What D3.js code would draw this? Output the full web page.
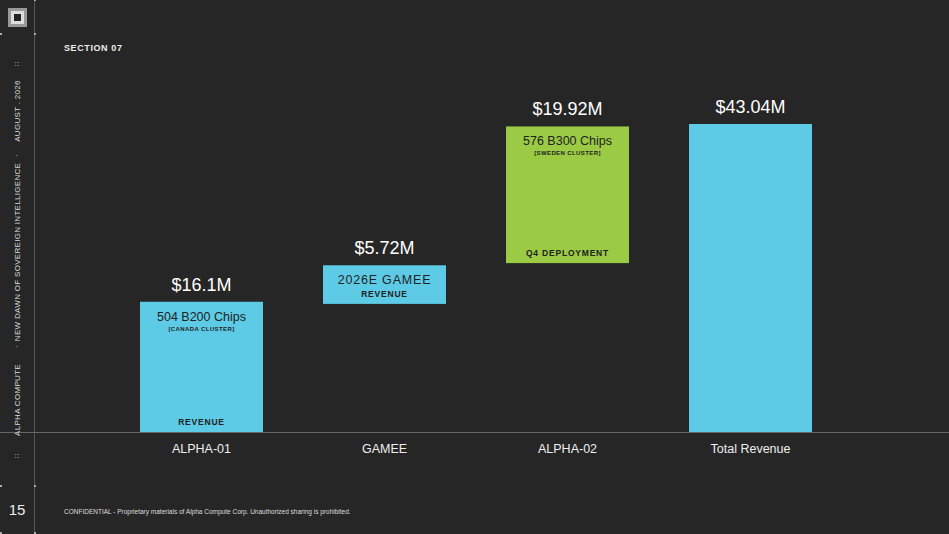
<!DOCTYPE html>
<html>
<head>
<meta charset="utf-8">
<script src="https://cdnjs.cloudflare.com/ajax/libs/d3/7.8.5/d3.min.js"></script>
<style>
  body { margin: 0; background: #262626; font-family: "Liberation Sans", Arial, sans-serif; }
  svg { display: block; }
</style>
</head>
<body>
<div id="chart"></div>
<script>
  const width = 949, height = 534;
  const baseY = 432;

  // waterfall steps, start/end in $M
  const data = [
    { name: "ALPHA-01", start: 0, end: 18.2, label: "$16.1M", color: "#5ecbe6",
      title: "504 B200 Chips", sub: "[CANADA CLUSTER]", foot: "REVENUE" },
    { name: "GAMEE", start: 17.9, end: 23.3, label: "$5.72M", color: "#5ecbe6",
      title: "2026E GAMEE", sub: null, foot: null, mid: "REVENUE" },
    { name: "ALPHA-02", start: 23.6, end: 42.7, label: "$19.92M", color: "#9bcb45",
      title: "576 B300 Chips", sub: "[SWEDEN CLUSTER]", foot: "Q4 DEPLOYMENT" },
    { name: "Total Revenue", start: 0, end: 43.04, label: "$43.04M", color: "#5ecbe6",
      title: null, sub: null, foot: null }
  ];

  const svg = d3.select("#chart").append("svg")
    .attr("width", width).attr("height", height);

  svg.append("rect").attr("width", width).attr("height", height).attr("fill", "#262626");

  const x = d3.scaleBand().domain(data.map(d => d.name)).range([140, 812]).paddingInner(0.328).paddingOuter(0);
  const y = d3.scaleLinear().domain([0, 43.04]).range([baseY, 124]);

  // frame lines
  svg.append("line").attr("x1", 34.5).attr("x2", 34.5).attr("y1", 0).attr("y2", height)
    .attr("stroke", "#555").attr("stroke-width", 1);
  svg.append("line").attr("x1", 0).attr("x2", width).attr("y1", baseY + 0.5).attr("y2", baseY + 0.5)
    .attr("stroke", "#666").attr("stroke-width", 1);
  [[0, 34], [34, 34], [0, 486], [34, 486], [0, 533], [34, 533], [34, 0]].forEach(p => {
    svg.append("rect").attr("x", p[0]).attr("y", p[1] - 1).attr("width", 2).attr("height", 2).attr("fill", "#aaa");
  });

  // logo
  const logo = svg.append("g").attr("transform", "translate(8,8)");
  logo.append("rect").attr("width", 19).attr("height", 19).attr("fill", "#999");
  logo.append("rect").attr("x", 3).attr("y", 3).attr("width", 13).attr("height", 13).attr("fill", "#ddd");
  logo.append("rect").attr("x", 6).attr("y", 6).attr("width", 7).attr("height", 7).attr("fill", "#222");

  // sidebar text
  const side = svg.append("g").attr("fill", "#ddd").attr("font-size", 8).attr("letter-spacing", 0.3);
  side.append("text").attr("transform", "translate(20,111) rotate(-90)").attr("text-anchor", "middle").text("AUGUST . 2026");
  side.append("text").attr("transform", "translate(20,252) rotate(-90)").attr("text-anchor", "middle").text("NEW DAWN OF SOVEREIGN INTELLIGENCE");
  side.append("text").attr("transform", "translate(20,400) rotate(-90)").attr("text-anchor", "middle").text("ALPHA COMPUTE");
  side.append("text").attr("x", 17).attr("y", 66).attr("text-anchor", "middle").text("::");
  side.append("text").attr("x", 17).attr("y", 458).attr("text-anchor", "middle").text("::");
  side.append("text").attr("x", 17).attr("y", 158).attr("text-anchor", "middle").text("·");
  side.append("text").attr("x", 17).attr("y", 349).attr("text-anchor", "middle").text("·");

  svg.append("text").attr("x", 17).attr("y", 515).attr("text-anchor", "middle")
    .attr("fill", "#eee").attr("font-size", 15).text("15");
  svg.append("text").attr("x", 64).attr("y", 51).attr("fill", "#eee")
    .attr("font-size", 9).attr("font-weight", "bold").attr("letter-spacing", 0.6).text("SECTION 07");
  svg.append("text").attr("x", 64).attr("y", 514).attr("fill", "#ddd")
    .attr("font-size", 6.5).text("CONFIDENTIAL - Proprietary materials of Alpha Compute Corp. Unauthorized sharing is prohibited.");

  // bars
  const bar = svg.append("g").selectAll("g").data(data).join("g");
  bar.append("rect")
    .attr("x", d => x(d.name))
    .attr("y", d => y(d.end))
    .attr("width", x.bandwidth())
    .attr("height", d => y(d.start) - y(d.end))
    .attr("fill", d => d.color);

  const cx = d => x(d.name) + x.bandwidth() / 2;

  bar.append("text").attr("x", cx).attr("y", d => y(d.end) - 11)
    .attr("text-anchor", "middle").attr("fill", "#fff").attr("font-size", 18).text(d => d.label);

  bar.filter(d => d.title).append("text").attr("x", cx).attr("y", d => y(d.end) + 19)
    .attr("text-anchor", "middle").attr("fill", "#222").attr("font-size", 12.5)
    .attr("letter-spacing", d => d.mid ? 0.8 : 0).text(d => d.title);
  bar.filter(d => d.sub).append("text").attr("x", cx).attr("y", d => y(d.end) + 29)
    .attr("text-anchor", "middle").attr("fill", "#222").attr("font-size", 6).attr("font-weight", "bold")
    .attr("letter-spacing", 0.4).text(d => d.sub);
  bar.filter(d => d.mid).append("text").attr("x", cx).attr("y", d => y(d.end) + 32)
    .attr("text-anchor", "middle").attr("fill", "#222").attr("font-size", 8.5).attr("font-weight", "bold")
    .attr("letter-spacing", 0.8).text(d => d.mid);
  bar.filter(d => d.foot).append("text").attr("x", cx).attr("y", d => y(d.start) - 7)
    .attr("text-anchor", "middle").attr("fill", "#222").attr("font-size", 8.5).attr("font-weight", "bold")
    .attr("letter-spacing", 0.8).text(d => d.foot);

  // category labels
  const axis = svg.append("g").attr("transform", `translate(0,${baseY})`)
    .call(d3.axisBottom(x).tickSize(0).tickPadding(12));
  axis.select(".domain").remove();
  axis.selectAll("text").attr("fill", "#eee").attr("font-size", 12.5)
    .attr("font-family", "'Liberation Sans', Arial, sans-serif");
</script>
</body>
</html>
